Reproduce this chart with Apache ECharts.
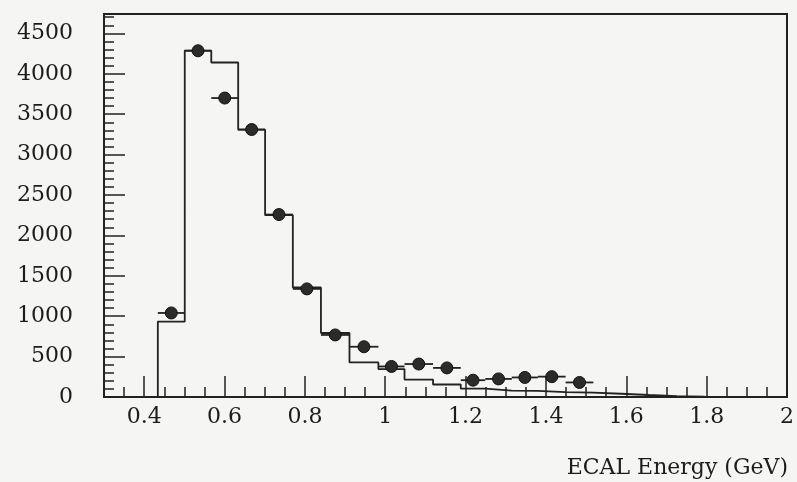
<!DOCTYPE html>
<html><head><meta charset="utf-8">
<script src="https://cdn.jsdelivr.net/npm/echarts@6/dist/echarts.min.js"></script>
<style>html,body{margin:0;padding:0;background:#f5f5f3;} #c{width:797px;height:482px;}</style>
</head><body><div id="c"></div>
<script>
// Bin edges of the histogram (GeV)
const binEdges = [0.434, 0.501, 0.567, 0.634, 0.701, 0.770, 0.840, 0.911, 0.983, 1.048, 1.119, 1.188, 1.249, 1.315, 1.380, 1.449, 1.518, 1.587, 1.656, 1.726, 1.795];
// Histogram (solid step line) contents per bin
const mcCounts = [933, 4287, 4140, 3309, 2250, 1355, 792, 428, 345, 216, 155, 103, 79, 77, 60, 54, 40, 25, 12, 5];
// Data points (filled circles) per bin
const dataCounts = [1040, 4285, 3700, 3310, 2258, 1338, 768, 622, 378, 408, 360, 208, 224, 242, 252, 180];
// Axis ticks
const xMajorTicks = [0.4, 0.6, 0.8, 1.0, 1.2, 1.4, 1.6, 1.8, 2.0];
const xMin = 0.3, xMax = 2.0, xMinorStep = 0.05;
const yMin = 0, yMax = 4740, yMajorStep = 500, yMinorStep = 100;
const xTitle = 'ECAL Energy (GeV)';

const FONT = 'DejaVu Serif';
const INK = '#222222';

const histLine = [[binEdges[0], 0]];
for (let i = 0; i < mcCounts.length; i++) {
  histLine.push([binEdges[i], mcCounts[i]]);
  histLine.push([binEdges[i + 1], mcCounts[i]]);
}
histLine.push([binEdges[mcCounts.length], 0]);

const points = dataCounts.map((v, i) => [(binEdges[i] + binEdges[i + 1]) / 2, v, binEdges[i], binEdges[i + 1]]);

const chart = echarts.init(document.getElementById('c'), null, {renderer: 'canvas'});
const labelStyle = {fontFamily: FONT, fontSize: 22, color: '#1c1c1c'};
chart.setOption({
  backgroundColor: '#f5f5f3',
  animation: false,
  title: {
    text: xTitle, right: 4, top: 452,
    textStyle: {fontFamily: FONT, fontSize: 22, fontWeight: 'normal', color: '#1c1c1c'}
  },
  grid: {left: 104, right: 10, top: 14, bottom: 85, show: true, borderColor: INK, borderWidth: 2, backgroundColor: 'transparent'},
  xAxis: [
    {type: 'value', min: xMin, max: xMax, interval: xMinorStep, position: 'bottom',
     axisLine: {show: true, lineStyle: {color: INK, width: 2}},
     axisTick: {show: true, inside: true, length: 10, lineStyle: {color: INK, width: 1.5}},
     axisLabel: {show: false}, splitLine: {show: false}},
    {type: 'value', min: xMin, max: xMax, position: 'bottom',
     axisLine: {show: false},
     axisTick: {show: true, inside: true, length: 21, customValues: xMajorTicks, lineStyle: {color: INK, width: 1.5}},
     axisLabel: Object.assign({show: true, margin: 9, customValues: xMajorTicks, formatter: v => String(+v.toFixed(1))}, labelStyle),
     splitLine: {show: false}}
  ],
  yAxis: [
    {type: 'value', min: yMin, max: yMax, interval: yMinorStep, position: 'left',
     axisLine: {show: true, lineStyle: {color: INK, width: 2}},
     axisTick: {show: true, inside: true, length: 10, lineStyle: {color: INK, width: 1.5}},
     axisLabel: {show: false}, splitLine: {show: false}},
    {type: 'value', min: yMin, max: yMax, interval: yMajorStep, position: 'left',
     axisLine: {show: false},
     axisTick: {show: true, inside: true, length: 21, lineStyle: {color: INK, width: 1.5}},
     axisLabel: Object.assign({show: true, margin: 31, showMaxLabel: false, formatter: v => String(v)}, labelStyle),
     splitLine: {show: false}}
  ],
  series: [
    {type: 'line', data: histLine, xAxisIndex: 0, yAxisIndex: 0, symbol: 'none',
     lineStyle: {color: INK, width: 1.8}, z: 3},
    {type: 'custom', data: points, xAxisIndex: 0, yAxisIndex: 0, encode: {x: 0, y: 1}, z: 4,
     renderItem: function (params, api) {
       const y = api.value(1);
       const p1 = api.coord([api.value(2), y]);
       const p2 = api.coord([api.value(3), y]);
       return {type: 'line', shape: {x1: p1[0], y1: p1[1], x2: p2[0], y2: p2[1]},
               style: {stroke: INK, lineWidth: 1.8}};
     }},
    {type: 'scatter', data: points.map(p => [p[0], p[1]]), xAxisIndex: 0, yAxisIndex: 0,
     symbol: 'circle', symbolSize: 12, z: 5,
     itemStyle: {color: '#2b2b2b', borderColor: '#111', borderWidth: 1, opacity: 1}}
  ]
});
</script></body></html>
